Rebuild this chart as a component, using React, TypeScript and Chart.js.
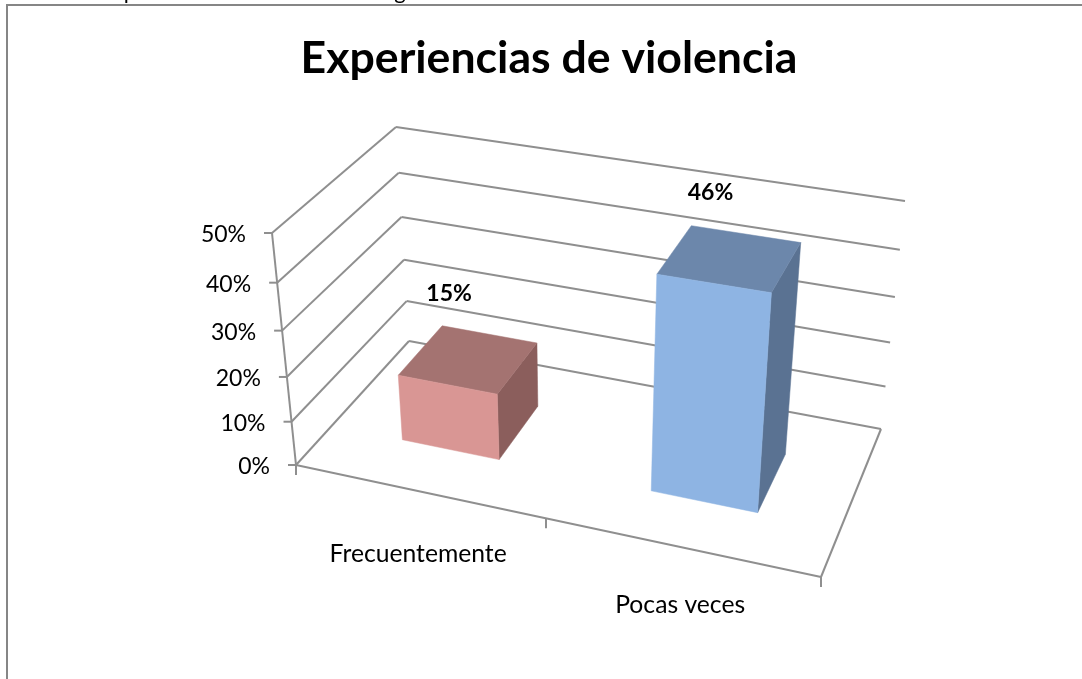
import React, { useEffect, useRef } from "react";
import { Chart, registerables } from "chart.js";

Chart.register(...registerables);

const chartTitle = "Experiencias de violencia";
const categories = ["Frecuentemente", "Pocas veces"];
const percentValues = [15, 46];
const barFaces = ["#D99694", "#8EB4E3"];
const barTops = ["#A47371", "#6C87AB"];
const barSides = ["#8B5E5C", "#5A7292"];
const axisMax = 50;
const axisStep = 10;

type Pt = [number, number];
// Projection frame of the 3D box (view geometry)
const FLOOR = { fl: [296, 465] as Pt, fr: [821, 577] as Pt, br: [881, 429] as Pt, bl: [409, 341] as Pt };
const CEIL = { fl: [272, 233] as Pt, fr: [842, 326] as Pt, br: [905, 201] as Pt, bl: [396, 127] as Pt };
const GRAY = "#8F8F8F";
const DEPTH_FRONT = 0.32;
const DEPTH_BACK = 0.725;
const warp = (t: number, k: number) => t / (1 + k * (1 - t));
const mix = (a: Pt, b: Pt, t: number): Pt => [a[0] + (b[0] - a[0]) * t, a[1] + (b[1] - a[1]) * t];
const plane = (p: typeof FLOOR, u: number, w: number) => mix(mix(p.fl, p.fr, u), mix(p.bl, p.br, u), w);
const project = (u: number, v: number, w: number): Pt => {
  const U = warp(u, 0.1);
  const V = warp(v, 0.09);
  return mix(plane(FLOOR, U, w), plane(CEIL, U, w), V);
};

const box3d = {
  id: "box3d",
  beforeDraw(chart: any) {
    const { ctx } = chart;
    ctx.save();
    ctx.fillStyle = "#fff";
    ctx.fillRect(0, 0, 1082, 679);
    // Clipped line of text above the frame, then the outer frame
    ctx.fillStyle = "#000";
    ctx.font = "22px Lato";
    ctx.textAlign = "center";
    ctx.textBaseline = "alphabetic";
    ctx.fillText("p", 130, -1);
    ctx.fillText("g", 400, -1);
    ctx.fillStyle = "#fff";
    ctx.fillRect(7, 6, 1075, 673);
    ctx.strokeStyle = "#868686";
    ctx.lineWidth = 2;
    ctx.strokeRect(7, 5, 1200, 800);
    ctx.restore();
  },
  beforeDatasetDraw: () => false,
  afterDatasetsDraw(chart: any) {
    const { ctx, scales } = chart;
    const xs = scales.x;
    const ys = scales.y;
    const line = (a: Pt, b: Pt) => {
      ctx.beginPath();
      ctx.moveTo(a[0], a[1]);
      ctx.lineTo(b[0], b[1]);
      ctx.stroke();
    };
    const poly = (pts: Pt[], fill: string) => {
      ctx.beginPath();
      pts.forEach((p, i) => (i ? ctx.lineTo(p[0], p[1]) : ctx.moveTo(p[0], p[1])));
      ctx.closePath();
      ctx.fillStyle = fill;
      ctx.fill();
      ctx.strokeStyle = fill;
      ctx.lineWidth = 0.5;
      ctx.stroke();
    };
    ctx.save();

    // Walls, floor, axes
    ctx.strokeStyle = GRAY;
    ctx.lineWidth = 2;
    ys.ticks.forEach((t: any) => {
      const v = (ys.bottom - ys.getPixelForValue(t.value)) / ys.height;
      const front = project(0, v, 0);
      line(front, project(0, v, 1));
      line(project(0, v, 1), project(1, v, 1));
      line(front, [front[0] - 8, front[1]]);
    });
    line(project(0, 0, 0), project(0, 1, 0));
    line(project(0, 0, 0), project(1, 0, 0));
    line(project(1, 0, 0), project(1, 0, 1));
    [0, 0.5, 1].forEach((u) => {
      const p = project(u, 0, 0);
      line(p, [p[0], p[1] + 10]);
    });

    // Y tick labels
    ctx.fillStyle = "#000";
    ctx.font = "23px Lato";
    ctx.textAlign = "right";
    ctx.textBaseline = "middle";
    ys.ticks.forEach((t: any) => {
      const v = (ys.bottom - ys.getPixelForValue(t.value)) / ys.height;
      const p = project(0, v, 0);
      ctx.fillText(`${t.value}%`, p[0] - 26, p[1] + 1.5);
    });

    // Bars
    const meta = chart.getDatasetMeta(0);
    meta.data.forEach((el: any, i: number) => {
      const u0 = (el.x - el.width / 2 - xs.left) / xs.width;
      const u1 = (el.x + el.width / 2 - xs.left) / xs.width;
      const v = (ys.bottom - el.y) / ys.height;
      const fb0 = project(u0, 0, DEPTH_FRONT);
      const fb1 = project(u1, 0, DEPTH_FRONT);
      const ft0 = project(u0, v, DEPTH_FRONT);
      const ft1 = project(u1, v, DEPTH_FRONT);
      const bb1 = project(u1, 0, DEPTH_BACK);
      const bt0 = project(u0, v, DEPTH_BACK);
      const bt1 = project(u1, v, DEPTH_BACK);
      poly([fb1, bb1, bt1, ft1], barSides[i]);
      poly([ft0, ft1, bt1, bt0], barTops[i]);
      poly([fb0, fb1, ft1, ft0], el.options.backgroundColor);

      // Value label
      const uc = (u0 + u1) / 2;
      const c = project(uc, v, DEPTH_BACK);
      ctx.fillStyle = "#000";
      ctx.font = "bold 23px Lato";
      ctx.textAlign = "center";
      ctx.textBaseline = "middle";
      ctx.fillText(`${chart.data.datasets[0].data[i]}%`, c[0] - 40 + 10 * (uc - 0.25), c[1] - 41);

      // Category label
      const f = project(uc, 0, 0);
      ctx.font = "24.7px Lato";
      ctx.fillText(String(chart.data.labels[i]), f[0], f[1] + 63 - 10 * (uc - 0.25));
    });
    ctx.restore();
  },
};

export default function App() {
  const ref = useRef<HTMLCanvasElement>(null);
  useEffect(() => {
    const chart = new Chart(ref.current as HTMLCanvasElement, {
      type: "bar",
      data: {
        labels: categories,
        datasets: [
          {
            data: percentValues,
            backgroundColor: barFaces,
            barPercentage: 0.4,
            categoryPercentage: 1,
          },
        ],
      },
      options: {
        responsive: false,
        animation: false,
        layout: { padding: { left: 16, top: 32 } },
        scales: {
          x: { display: false },
          y: { display: false, min: 0, max: axisMax, ticks: { stepSize: axisStep } },
        },
        plugins: {
          legend: { display: false },
          tooltip: { enabled: false },
          title: {
            display: true,
            text: chartTitle,
            color: "#000",
            font: { family: "Lato", size: 44.6, weight: "bold" },
            padding: 0,
          },
        },
      },
      plugins: [box3d],
    } as any);
    return () => chart.destroy();
  }, []);
  return (
    <div style={{ position: "fixed", left: 0, top: 0, width: 1082, height: 679, background: "#fff" }}>
      <canvas ref={ref} width={1082} height={679} style={{ display: "block" }} />
    </div>
  );
}
